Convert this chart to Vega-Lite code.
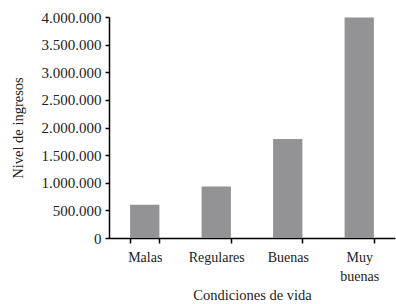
{
  "$schema": "https://vega.github.io/schema/vega-lite/v6.json",
  "autosize": "none",
  "width": 286,
  "height": 221,
  "padding": {"left": 109, "top": 17, "right": 1, "bottom": 66},
  "config": {
    "locale": {"number": {"decimal": ",", "thousands": ".", "grouping": [3], "currency": ["", ""]}},
    "view": {"stroke": null},
    "font": "Liberation Serif",
    "axis": {"grid": false, "domainColor": "#000", "tickColor": "#000", "labelColor": "#222", "titleColor": "#222", "labelFont": "Liberation Serif", "titleFont": "Liberation Serif", "titleFontWeight": "normal", "domainWidth": 1.5, "tickWidth": 1.5}
  },
  "data": {"values": [
    {"cond": "Malas", "ingresos": 600000},
    {"cond": "Regulares", "ingresos": 930000},
    {"cond": "Buenas", "ingresos": 1790000},
    {"cond": "Muy buenas", "ingresos": 3990000}
  ]},
  "mark": {"type": "bar", "color": "#939396"},
  "encoding": {
    "x": {"field": "cond", "type": "nominal", "sort": null,
      "scale": {"paddingInner": 0.59, "paddingOuter": 0.295},
      "axis": {"title": "Condiciones de vida", "labelAngle": 0, "tickBand": "extent", "tickSize": 5, "labelPadding": 7, "labelFontSize": 14, "titleFontSize": 14.5, "labelExpr": "split(datum.label, ' ')", "labelLineHeight": 19, "titlePadding": 5}},
    "y": {"field": "ingresos", "type": "quantitative",
      "scale": {"domain": [0, 4000000]},
      "axis": {"title": "Nivel de ingresos", "format": ",d", "values": [0,500000,1000000,1500000,2000000,2500000,3000000,3500000,4000000], "tickSize": 4, "labelPadding": 4, "labelFontSize": 15, "titleFontSize": 14.5, "titlePadding": 16}}
  }
}
